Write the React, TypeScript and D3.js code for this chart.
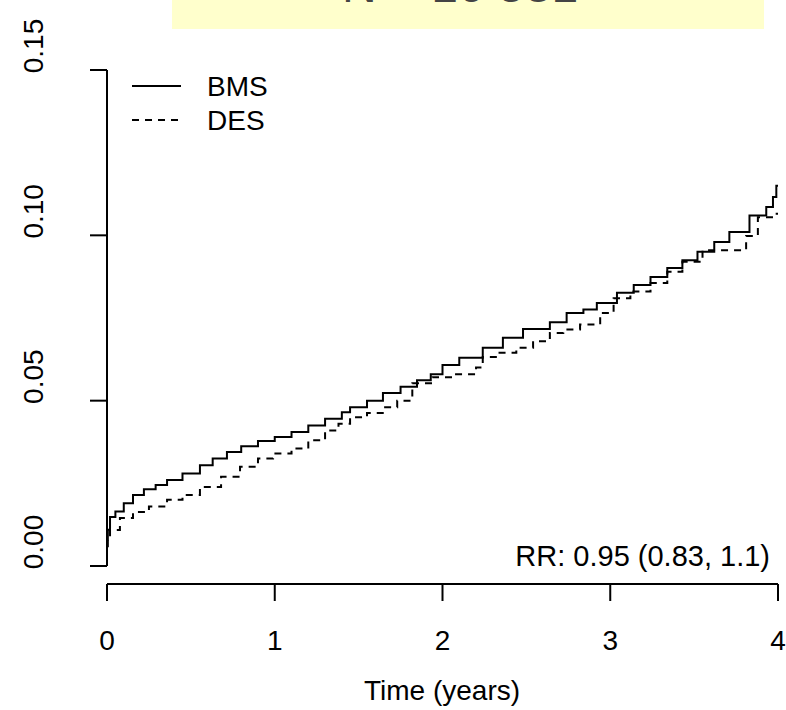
import React, { useEffect, useRef } from 'react';
import * as d3 from 'd3';

// cumulative incidence (time in years, proportion)
const bmsTime = [0, 0.005, 0.018, 0.05, 0.1, 0.155, 0.22, 0.29, 0.358, 0.45, 0.554, 0.63, 0.715, 0.8, 0.9, 1.0, 1.1, 1.2, 1.3, 1.4, 1.449, 1.55, 1.645, 1.75, 1.848, 1.93, 2.0, 2.1, 2.24, 2.36, 2.48, 2.64, 2.74, 2.84, 2.92, 3.04, 3.14, 3.24, 3.34, 3.43, 3.52, 3.62, 3.71, 3.83, 3.93, 3.97, 3.99, 4.0];
const bmsValue = [0.008, 0.011, 0.0148, 0.0165, 0.019, 0.0215, 0.0232, 0.0245, 0.026, 0.028, 0.0305, 0.0325, 0.0345, 0.0362, 0.0378, 0.039, 0.0405, 0.0425, 0.0445, 0.0465, 0.048, 0.05, 0.0523, 0.0542, 0.0562, 0.058, 0.0608, 0.063, 0.066, 0.069, 0.0717, 0.0737, 0.0765, 0.0776, 0.0795, 0.0826, 0.085, 0.0874, 0.0901, 0.0925, 0.095, 0.098, 0.101, 0.106, 0.1086, 0.1116, 0.115, 0.115];

const desTime = [0, 0.005, 0.018, 0.077, 0.155, 0.25, 0.358, 0.45, 0.554, 0.68, 0.793, 0.9, 0.99, 1.1, 1.2, 1.3, 1.38, 1.449, 1.55, 1.65, 1.73, 1.82, 1.94, 2.06, 2.2, 2.24, 2.34, 2.44, 2.54, 2.64, 2.72, 2.82, 2.94, 3.02, 3.12, 3.24, 3.34, 3.43, 3.55, 3.81, 3.88, 3.98, 4.0];
const desValue = [0.006, 0.009, 0.0109, 0.0145, 0.0163, 0.018, 0.02, 0.0215, 0.0239, 0.027, 0.03, 0.0325, 0.034, 0.0355, 0.038, 0.041, 0.043, 0.045, 0.0463, 0.048, 0.05, 0.0553, 0.0571, 0.058, 0.06, 0.0632, 0.0645, 0.066, 0.068, 0.0705, 0.0715, 0.073, 0.0765, 0.081, 0.083, 0.0856, 0.089, 0.092, 0.0955, 0.0998, 0.1055, 0.1065, 0.1065];

const xTicks = [0, 1, 2, 3, 4];
const yTicks = [0, 0.05, 0.1, 0.15];
const groups = ['BMS', 'DES'];
const title = 'N = 10 531';
const rrLabel = 'RR: 0.95 (0.83, 1.1)';

const App = () => {
  const svgRef = useRef<SVGSVGElement>(null);

  useEffect(() => {
    document.body.style.margin = '0';
    const svg = d3.select(svgRef.current);
    svg.selectAll('*').remove();
    const font = '"Liberation Sans", Arial, sans-serif';

    const x = d3.scaleLinear().domain([0, 4]).range([107, 778]);
    const y = d3.scaleLinear().domain([0, 0.15]).range([566, 70]);

    // title box, its text runs off the top of the page as in the reference
    svg.append('rect')
      .attr('x', 172).attr('y', 0).attr('width', 592).attr('height', 29)
      .attr('fill', '#ffffcc');
    svg.append('text')
      .attr('x', 460).attr('y', 2)
      .attr('text-anchor', 'middle')
      .style('font-family', font).style('font-size', '48px')
      .attr('fill', '#444')
      .text(title);

    // axes
    const ax = svg.append('g').attr('stroke', '#000').attr('stroke-width', 2).attr('fill', 'none');
    ax.append('line').attr('x1', x(0)).attr('x2', x(4)).attr('y1', 584).attr('y2', 584);
    xTicks.forEach(t => {
      ax.append('line').attr('x1', x(t)).attr('x2', x(t)).attr('y1', 584).attr('y2', 601);
    });
    ax.append('line').attr('x1', 107).attr('x2', 107).attr('y1', y(0)).attr('y2', y(0.15));
    yTicks.forEach(t => {
      ax.append('line').attr('x1', 90).attr('x2', 107).attr('y1', y(t)).attr('y2', y(t));
    });

    svg.selectAll('.xlab').data(xTicks).enter().append('text')
      .attr('x', d => x(d)).attr('y', 650)
      .attr('text-anchor', 'middle')
      .style('font-family', font).style('font-size', '28px')
      .text(d => d);

    svg.selectAll('.ylab').data(yTicks).enter().append('text')
      .attr('transform', d => `translate(43,${y(d) - 24}) rotate(-90)`)
      .attr('text-anchor', 'middle')
      .style('font-family', font).style('font-size', '28px')
      .text(d => d3.format('.2f')(d));

    svg.append('text')
      .attr('x', 442).attr('y', 700)
      .attr('text-anchor', 'middle')
      .style('font-family', font).style('font-size', '28px')
      .text('Time (years)');

    // step curves
    const line = d3.line<[number, number]>()
      .x(d => x(d[0])).y(d => y(d[1]))
      .curve(d3.curveStepAfter);
    const series: [number, number][][] = [
      bmsTime.map((t, i) => [t, bmsValue[i]]),
      desTime.map((t, i) => [t, desValue[i]]),
    ];
    series.forEach((s, i) => {
      svg.append('path')
        .datum(s)
        .attr('d', line)
        .attr('fill', 'none')
        .attr('stroke', '#000')
        .attr('stroke-width', 2)
        .attr('stroke-dasharray', i === 1 ? '7,6' : null);
    });

    // legend
    groups.forEach((g, i) => {
      const ly = 86 + i * 34;
      svg.append('line')
        .attr('x1', 132).attr('x2', 181).attr('y1', ly).attr('y2', ly)
        .attr('stroke', '#000').attr('stroke-width', 2)
        .attr('stroke-dasharray', i === 1 ? '7,6' : null);
      svg.append('text')
        .attr('x', 207).attr('y', ly + 10)
        .style('font-family', font).style('font-size', '28px')
        .text(g);
    });

    svg.append('text')
      .attr('x', 770).attr('y', 566)
      .attr('text-anchor', 'end')
      .style('font-family', font).style('font-size', '29px')
      .text(rrLabel);
  }, []);

  return <svg ref={svgRef} width={786} height={710} style={{ display: 'block' }}></svg>;
};

export default App;
